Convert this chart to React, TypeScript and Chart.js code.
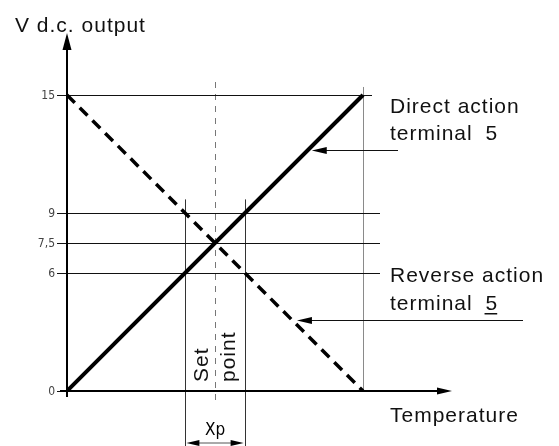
import React, { useEffect, useRef } from 'react';
import { Chart, registerables } from 'chart.js';

Chart.register(...registerables);

// ---- data ----
const temperatureRange = [0, 15];
const directAction = [0, 15];
const reverseAction = [15, 0];
const yTickValues = [0, 6, 7.5, 9, 15];
const yTickLabels = ['0', '6', '7,5', '9', '15'];
const setPoint = 7.5;
const xpBand = [6, 9];
const fullScale = 15;
const directArrowValue = 12.2;
const reverseArrowTemp = 11.4;

const SANS = '"Liberation Sans", Arial, sans-serif';
const NARROW = '"Liberation Sans Narrow", "DejaVu Sans Condensed", sans-serif';

const arrowHead = (ctx: CanvasRenderingContext2D, tipX: number, tipY: number, dir: 'up' | 'right' | 'left', len: number, half: number) => {
  ctx.beginPath();
  ctx.moveTo(tipX, tipY);
  if (dir === 'up') {
    ctx.lineTo(tipX - half, tipY + len);
    ctx.lineTo(tipX + half, tipY + len);
  } else if (dir === 'right') {
    ctx.lineTo(tipX - len, tipY - half);
    ctx.lineTo(tipX - len, tipY + half);
  } else {
    ctx.lineTo(tipX + len, tipY - half);
    ctx.lineTo(tipX + len, tipY + half);
  }
  ctx.closePath();
  ctx.fill();
};

const diagramPlugin = {
  id: 'diagram',
  beforeDatasetsDraw(chart: any) {
    const { ctx, chartArea, scales } = chart;
    const xs = scales.x;
    const ys = scales.y;
    const px = (v: number) => xs.getPixelForValue(v);
    const py = (v: number) => ys.getPixelForValue(v);
    const x0 = px(0);
    const y0 = py(0);
    const xFull = px(fullScale);
    ctx.save();

    // vertical line at full scale
    ctx.strokeStyle = '#8a8a8a';
    ctx.lineWidth = 1;
    ctx.beginPath();
    ctx.moveTo(Math.round(xFull) + 0.5, py(fullScale) - 8);
    ctx.lineTo(Math.round(xFull) + 0.5, y0);
    ctx.stroke();

    // Xp band verticals
    ctx.strokeStyle = '#333';
    xpBand.forEach((v) => {
      const xx = Math.round(px(v)) + 0.5;
      ctx.beginPath();
      ctx.moveTo(xx, py(xpBand[1]) - 14);
      ctx.lineTo(xx, chart.height);
      ctx.stroke();
    });

    // set point dashed line
    ctx.strokeStyle = '#777';
    ctx.setLineDash([6, 6]);
    ctx.beginPath();
    const sx = Math.round(px(setPoint)) + 0.5;
    ctx.moveTo(sx, chartArea.top + 49);
    ctx.lineTo(sx, y0 + 9);
    ctx.stroke();
    ctx.setLineDash([]);

    // horizontal reference lines + ticks + labels
    ctx.strokeStyle = '#111';
    ctx.fillStyle = '#444';
    ctx.font = `12px ${NARROW}`;
    ctx.textAlign = 'right';
    ctx.textBaseline = 'middle';
    yTickValues.forEach((v, i) => {
      const yy = Math.round(py(v)) + 0.5;
      let right = x0;
      if (v === fullScale) right = xFull + 9;
      else if (v !== 0) right = xFull + 17;
      ctx.beginPath();
      ctx.moveTo(x0 - 10, yy);
      ctx.lineTo(right, yy);
      ctx.stroke();
      ctx.fillText(yTickLabels[i], x0 - 12, yy);
    });
    ctx.restore();
  },
  afterDatasetsDraw(chart: any) {
    const { ctx, chartArea, scales } = chart;
    const xs = scales.x;
    const ys = scales.y;
    const px = (v: number) => xs.getPixelForValue(v);
    const py = (v: number) => ys.getPixelForValue(v);
    const x0 = px(0);
    const y0 = py(0);
    const xFull = px(fullScale);
    ctx.save();
    ctx.strokeStyle = '#000';
    ctx.fillStyle = '#000';

    // axes
    ctx.lineWidth = 2;
    ctx.beginPath();
    ctx.moveTo(x0, y0 + 6);
    ctx.lineTo(x0, chartArea.top + 10);
    ctx.stroke();
    arrowHead(ctx, x0, chartArea.top, 'up', 17, 4.5);
    ctx.beginPath();
    ctx.moveTo(x0 - 7, y0);
    ctx.lineTo(chartArea.right - 10, y0);
    ctx.stroke();
    arrowHead(ctx, chartArea.right, y0, 'right', 15, 3.5);

    // Xp dimension
    ctx.lineWidth = 1;
    const xa = px(xpBand[0]);
    const xb = px(xpBand[1]);
    const dimY = chart.height - 3;
    ctx.strokeStyle = '#555';
    ctx.beginPath();
    ctx.moveTo(xa + 10, dimY);
    ctx.lineTo(xb - 10, dimY);
    ctx.stroke();
    ctx.fillStyle = '#000';
    arrowHead(ctx, xa + 1, dimY, 'left', 13, 3);
    arrowHead(ctx, xb - 1, dimY, 'right', 13, 3);
    ctx.font = `17px ${NARROW}`;
    ctx.textAlign = 'center';
    ctx.textBaseline = 'alphabetic';
    ctx.fillText('Xp', (xa + xb) / 2, chart.height - 11);

    // annotation arrows
    ctx.strokeStyle = '#111';
    ctx.lineWidth = 1;
    const dy = Math.round(py(directArrowValue)) + 0.5;
    const dTip = px(directArrowValue) + 4;
    ctx.beginPath();
    ctx.moveTo(dTip + 12, dy);
    ctx.lineTo(xFull + 35, dy);
    ctx.stroke();
    arrowHead(ctx, dTip, dy, 'left', 15, 3.5);

    const rv = reverseAction[0] - (reverseAction[0] - reverseAction[1]) * (reverseArrowTemp / temperatureRange[1]);
    const ry = Math.round(py(rv)) + 0.5;
    const rTip = px(reverseArrowTemp) + 5;
    ctx.beginPath();
    ctx.moveTo(rTip + 12, ry);
    ctx.lineTo(xFull + 160, ry);
    ctx.stroke();
    arrowHead(ctx, rTip, ry, 'left', 15, 3.5);

    // texts
    ctx.fillStyle = '#111';
    ctx.font = `21px ${SANS}`;
    ctx.textAlign = 'left';
    ctx.textBaseline = 'alphabetic';
    (ctx as any).letterSpacing = '1px';
    (ctx as any).wordSpacing = '0px';
    ctx.fillText('V d.c. output', 15, 32);
    ctx.fillText('Temperature', xFull + 27, y0 + 31);
    ctx.fillText('Direct action', xFull + 27, 113);
    ctx.fillText('Reverse action', xFull + 27, 282);
    (ctx as any).wordSpacing = '6px';
    ctx.fillText('terminal 5', xFull + 27, 140);
    ctx.fillText('terminal 5', xFull + 27, 310);
    const full = ctx.measureText('terminal 5').width;
    const five = ctx.measureText('5').width;
    ctx.fillRect(xFull + 27 + full - five - 1, 313, five, 1.5);
    (ctx as any).wordSpacing = '0px';

    // set point rotated text
    const sp = px(setPoint);
    ctx.save();
    ctx.translate(sp - 7, y0 - 9);
    ctx.rotate(-Math.PI / 2);
    ctx.fillText('Set', 0, 0);
    ctx.restore();
    ctx.save();
    ctx.translate(sp + 20, y0 - 9);
    ctx.rotate(-Math.PI / 2);
    ctx.fillText('point', 0, 0);
    ctx.restore();

    ctx.restore();
  },
};

export default function App() {
  const canvasRef = useRef<HTMLCanvasElement | null>(null);

  useEffect(() => {
    if (!canvasRef.current) return;
    const chart = new Chart(canvasRef.current, {
      type: 'scatter',
      data: {
        datasets: [
          {
            label: 'Direct action terminal 5',
            data: temperatureRange.map((t, i) => ({ x: t, y: directAction[i] })),
            showLine: true,
            borderColor: '#000',
            borderWidth: 4,
            pointRadius: 0,
          },
          {
            label: 'Reverse action terminal 5',
            data: temperatureRange.map((t, i) => ({ x: t, y: reverseAction[i] })),
            showLine: true,
            borderColor: '#000',
            borderWidth: 3.5,
            borderDash: [11, 7],
            pointRadius: 0,
          },
        ],
      },
      options: {
        responsive: false,
        animation: false,
        layout: { padding: { left: 67, top: 33, right: 107, bottom: 55 } },
        plugins: { legend: { display: false }, tooltip: { enabled: false } },
        scales: {
          x: { type: 'linear', min: 0, max: 19.51, display: false },
          y: { type: 'linear', min: 0, max: 18.14, display: false },
        },
      },
      plugins: [diagramPlugin],
    });
    return () => chart.destroy();
  }, []);

  return (
    <div style={{ position: 'fixed', left: 0, top: 0, width: 559, height: 446, background: '#fff' }}>
      <canvas ref={canvasRef} width={559} height={446} style={{ display: 'block' }} />
    </div>
  );
}
